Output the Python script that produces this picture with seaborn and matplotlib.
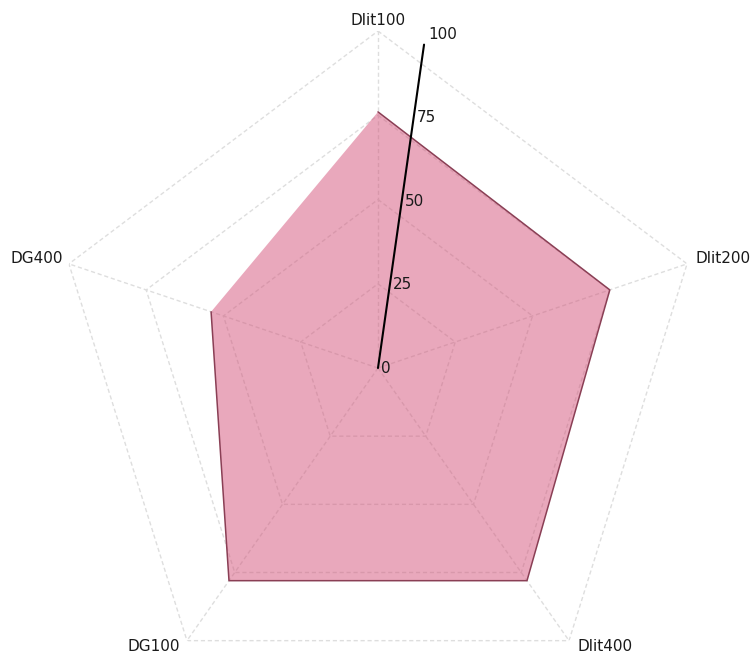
import numpy as np
import pandas as pd
import matplotlib
matplotlib.use("Agg")
import matplotlib.pyplot as plt
import seaborn as sns

# Radar indicators, listed clockwise from the top
indicators = ["Dlit100", "Dlit200", "Dlit400", "DG100", "DG400"]
scores = [76, 75, 78, 78, 54]
ring_levels = [25, 50, 75, 100]
tick_values = [0, 25, 50, 75, 100]
tick_labels = ["0", "25", "50", "75", "100"]

sns.set_theme(style="white")
plt.rcParams["font.family"] = ["DejaVu Sans"]

fig = plt.figure(figsize=(7.55, 6.57), dpi=100)
ax = fig.add_axes([0.0702, -0.0731, 0.8609, 1.0259], projection="polar")
ax.set_aspect("auto")
ax.set_theta_zero_location("N")
ax.set_theta_direction(-1)
ax.set_ylim(0, 100)
ax.grid(False)
ax.spines["polar"].set_visible(False)
ax.set_xticks([])
ax.set_yticks([])
ax.set_facecolor("none")

n = len(indicators)
angles = np.arange(n) * 2 * np.pi / n
closed = np.append(angles, angles[0])

grid_kw = dict(color="#dedede", lw=1.0, ls=(0, (3, 2)), zorder=1)
# Polygonal split lines
for level in ring_levels:
    ax.plot(closed, [level] * (n + 1), **grid_kw)
# Spokes
for a in angles:
    ax.plot([a, a], [0, 100], **grid_kw)

# Data polygon
df = pd.DataFrame({
    "theta": np.append(angles, angles[0]),
    "value": scores + [scores[0]],
})
ax.fill(df["theta"], df["value"], color="#d4537a", alpha=0.5, lw=0, zorder=2)
sns.lineplot(data=df, x="theta", y="value", sort=False, ax=ax,
             color="#8a3f55", lw=1.1, zorder=3)
ax.set_xlabel("")
ax.set_ylabel("")

# Indicator names next to the outer vertices: (ha, va, dx, dy) in points
label_place = {
    "Dlit100": ("center", "bottom", 0, 2),
    "Dlit200": ("left", "bottom", 6, -1.5),
    "Dlit400": ("left", "center", 6, -4.5),
    "DG100": ("right", "center", -5, -4),
    "DG400": ("right", "bottom", -4.5, -1.5),
}
for a, name in zip(angles, indicators):
    ha, va, dx, dy = label_place[name]
    ax.annotate(name, xy=(a, 100), xytext=(dx, dy), textcoords="offset points",
                ha=ha, va=va, fontsize=11, color="#1a1a1a", zorder=5)

# Value axis with its tick labels
axis_theta = np.deg2rad(8.4)
ax.plot([axis_theta, axis_theta], [0, 97], color="black", lw=1.5, zorder=4)
for v, lab in zip(tick_values, tick_labels):
    ax.annotate(lab, xy=(axis_theta, v), xytext=(2, 0),
                textcoords="offset points", ha="left", va="center",
                fontsize=11, color="#1a1a1a", zorder=5)

fig.savefig("out.png", dpi=100)
